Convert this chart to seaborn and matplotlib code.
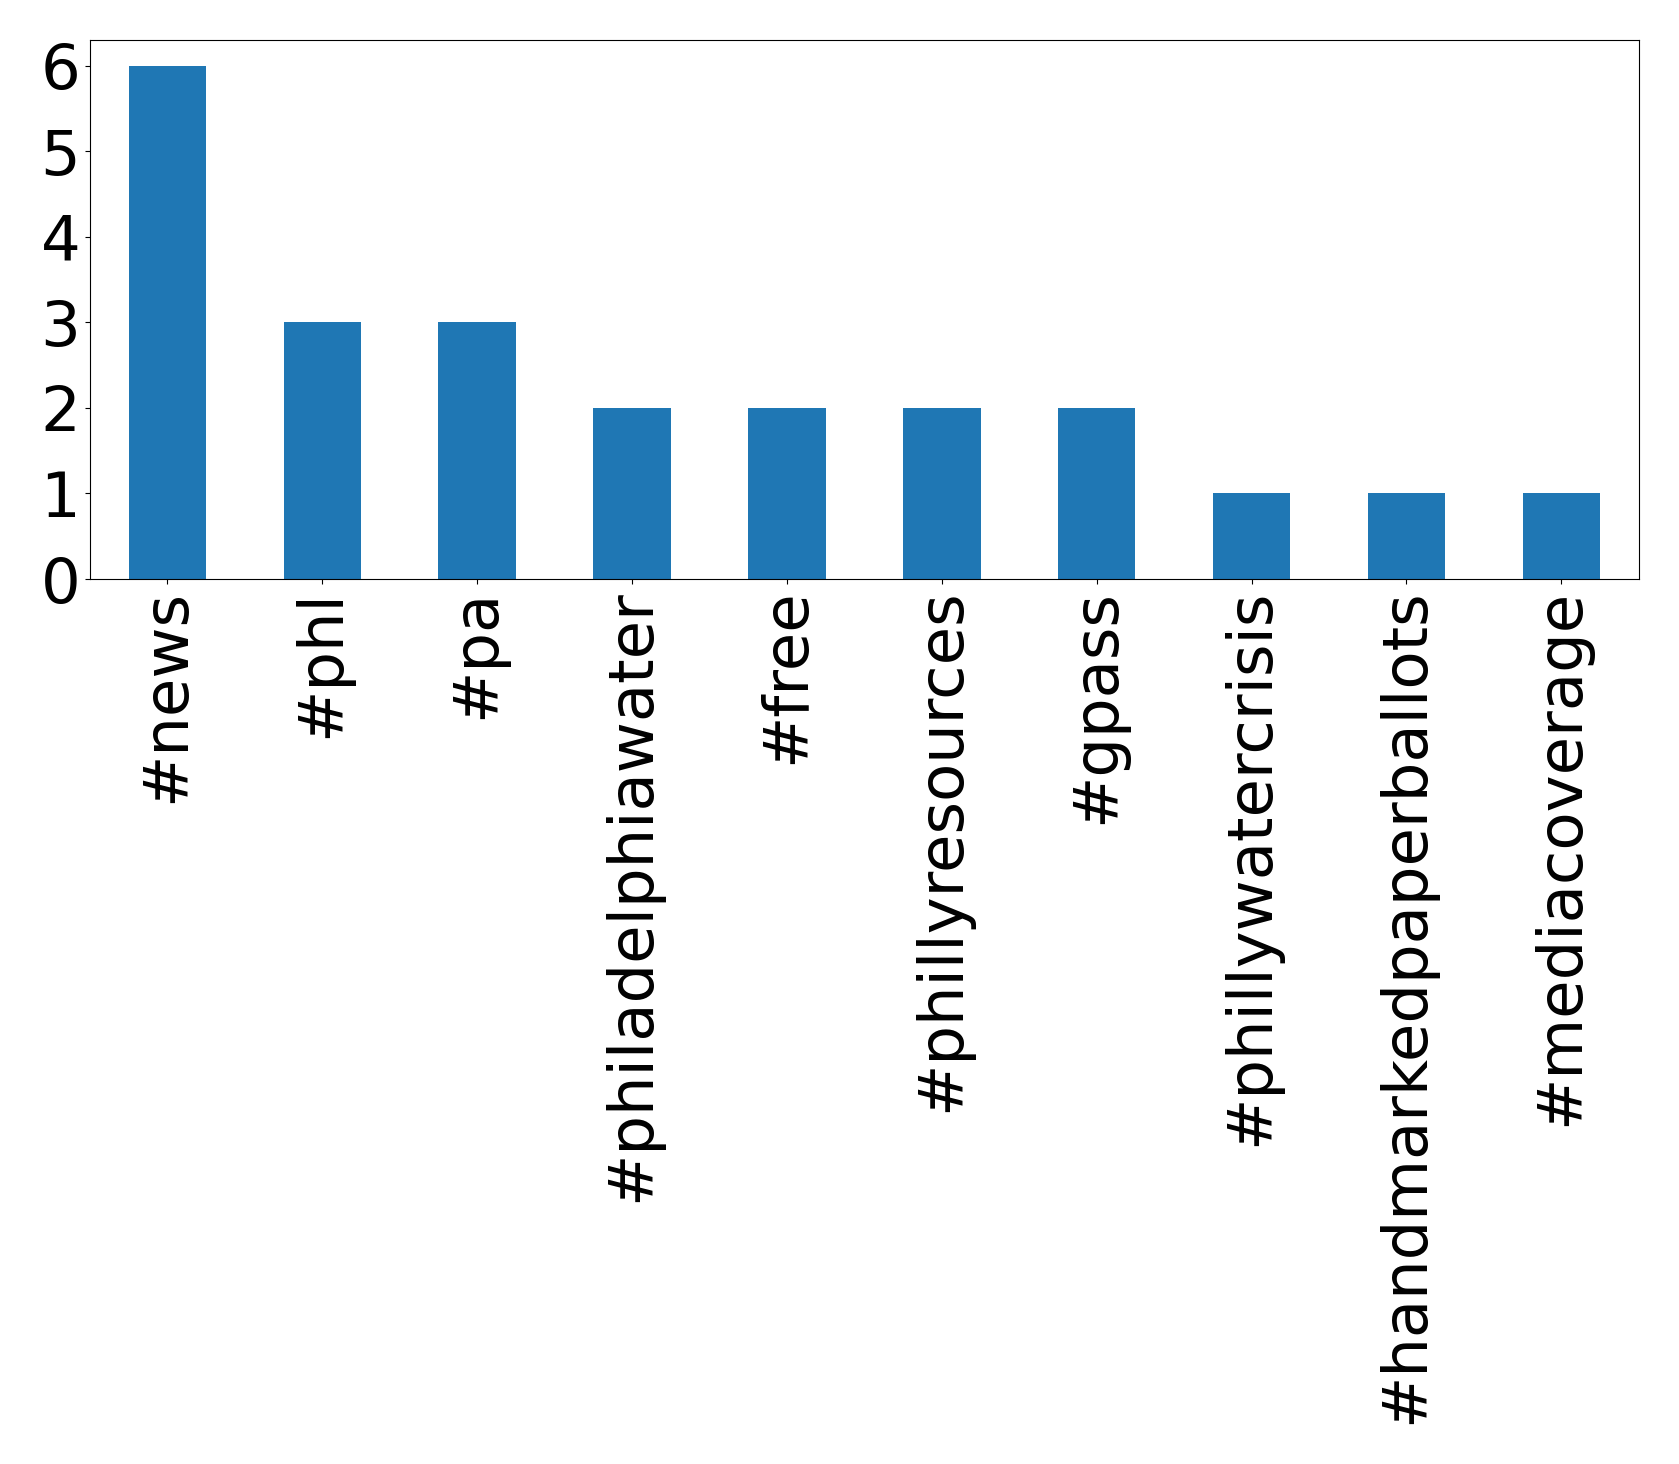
import matplotlib
matplotlib.use('Agg')
import matplotlib.pyplot as plt
import seaborn as sns
import pandas as pd

hashtags = ['#news', '#phl', '#pa', '#philadelphiawater', '#free',
            '#phillyresources', '#gpass', '#phillywatercrisis',
            '#handmarkedpaperballots', '#mediacoverage']
counts = [6, 3, 3, 2, 2, 2, 2, 1, 1, 1]

df = pd.DataFrame({'hashtag': hashtags, 'count': counts})

fig = plt.figure(figsize=(16.79, 14.64), dpi=100)
ax = fig.add_axes([0.0536, 0.6045, 0.9224, 0.3682])
sns.barplot(data=df, x='hashtag', y='count', color='#1f77b4', saturation=1,
            width=0.5, ax=ax, errorbar=None)
ax.set_xlim(-0.5, len(hashtags) - 0.5)
ax.set_ylim(0, 6.3)
ax.set_yticks(range(0, 7))
ax.set_xlabel('')
ax.set_ylabel('')
ax.tick_params(axis='both', labelsize=45)
ax.set_xticks(range(len(hashtags)))
ax.set_xticklabels(hashtags, rotation=90)

fig.savefig('out.png', dpi=100)
